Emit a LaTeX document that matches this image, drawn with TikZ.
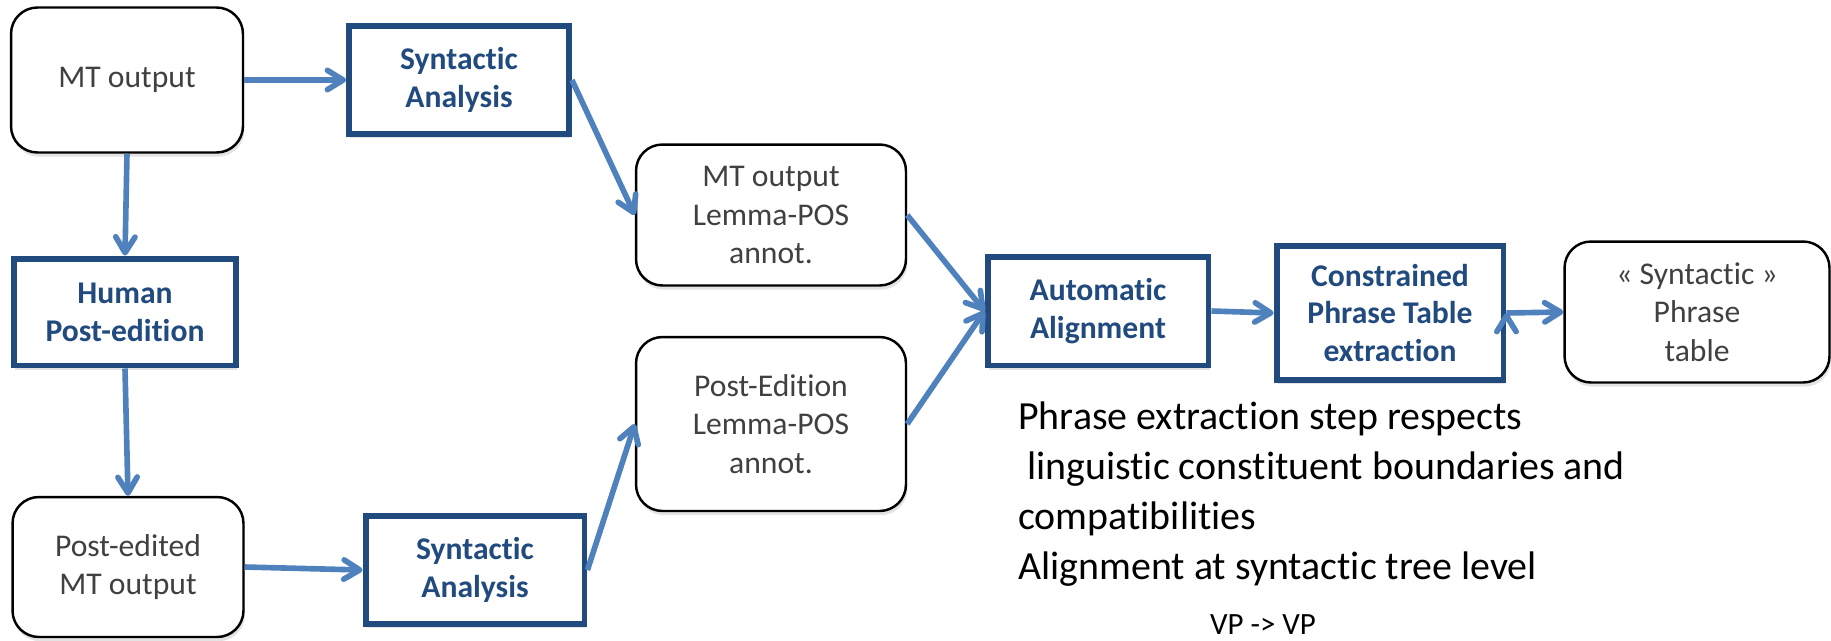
\documentclass[tikz,border=0pt]{standalone}
\usepackage{fontspec}
\setmainfont{Carlito}[Ligatures=NoCommon]
\usetikzlibrary{arrows.meta,shadows}
\definecolor{procblue}{RGB}{33,74,126}
\definecolor{flowblue}{RGB}{79,129,189}
\definecolor{datagray}{RGB}{64,64,64}
\tikzset{data/.style={draw=black, line width=1.4pt, rounded corners=15pt, fill=white, text=datagray, align=center,
    font=\fontsize{18}{22}\selectfont, drop shadow={shadow xshift=0.8pt, shadow yshift=-2.4pt, opacity=0.22}}}
\tikzset{proc/.style={draw=procblue, line width=3.4pt, fill=white, text=procblue, align=center,
    font=\fontsize{18}{21.5}\selectfont\bfseries, drop shadow={shadow xshift=0.8pt, shadow yshift=-2.4pt, opacity=0.22}}}
\tikzstyle{note}=[anchor=base west, inner sep=0pt, font=\fontsize{22.7}{28}\selectfont]

\begin{document}
\begin{tikzpicture}[x=0.02cm, y=-0.02cm, >={Straight Barb[length=9pt,width=11pt,round]}]
\useasboundingbox (0,0) rectangle (1831,640);
% left column
\node[data, minimum width=4.64cm, minimum height=2.9cm] (mt) at (127,80) {MT output};
\node[proc, minimum width=4.44cm, minimum height=2.14cm] (human) at (125,312) {Human\\Post-edition};
\node[data, minimum width=4.62cm, minimum height=2.8cm] (ped) at (128,567) {Post-edited\\MT output};
% parsing
\node[proc, minimum width=4.4cm, minimum height=2.16cm] (synA) at (459,80) {Syntactic\\Analysis};
\node[proc, minimum width=4.38cm, minimum height=2.16cm] (synB) at (475,570) {Syntactic\\Analysis};
\node[data, minimum width=5.4cm, minimum height=2.82cm] (lemA) at (771,215) {MT output\\Lemma-POS\\annot.};
\node[data, minimum width=5.4cm, minimum height=3.48cm] (lemB) at (771,424) {Post-Edition\\Lemma-POS\\annot.};
% alignment and extraction
\node[proc, minimum width=4.42cm, minimum height=2.18cm] (align) at (1098,311) {Automatic\\Alignment};
\node[proc, minimum width=4.54cm, minimum height=2.68cm] (constr) at (1390,313) {Constrained\\Phrase Table\\extraction};
\node[data, minimum width=5.3cm, minimum height=2.82cm] (table) at (1697,312) {« Syntactic »\\Phrase\\table};

\path[->, draw=flowblue, line width=3.2pt]
  (mt.east) edge (synA.west)
  (mt.south) edge (human.north)
  (human.south) edge (ped.north)
  (ped.east) edge (synB.west)
  (synA.east) edge (lemA.west)
  (synB.east) edge (lemB.west)
  (lemA.east) edge (align.west)
  (lemB.east) edge (align.west)
  (align.east) edge (constr.west)
  (constr.east) edge (table.west);

% remarks
\node[note] (rem1) at (1018,429) {Phrase extraction step respects};
\node[note] (rem2) at (1018,479) {\ linguistic constituent boundaries and};
\node[note] (rem3) at (1018,529) {compatibilities};
\node[note] (rem4) at (1018,579) {Alignment at syntactic tree level};
\node[anchor=base, inner sep=0pt, font=\fontsize{17.6}{20}\selectfont] (rule) at (1263,634) {VP -> VP};
\end{tikzpicture}
\end{document}
